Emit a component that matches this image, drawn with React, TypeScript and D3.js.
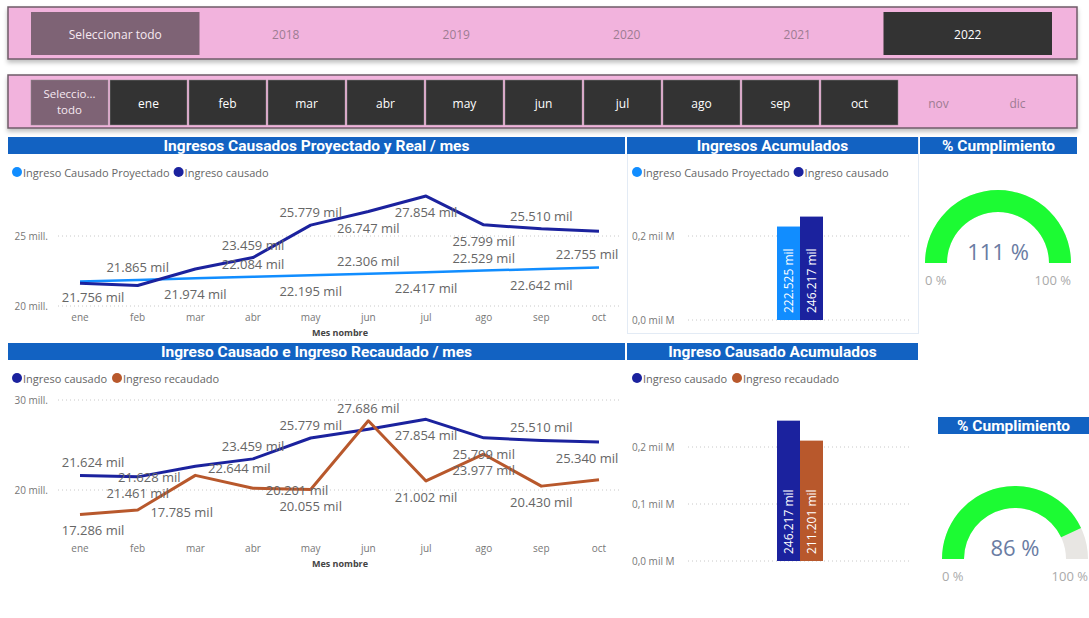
import React from 'react'
import * as d3 from 'd3'

// slicers
const years = ['2018', '2019', '2020', '2021', '2022']
const selectedYear = '2022'
const months = ['ene', 'feb', 'mar', 'abr', 'may', 'jun', 'jul', 'ago', 'sep', 'oct', 'nov', 'dic']
const activeMonths = ['ene', 'feb', 'mar', 'abr', 'may', 'jun', 'jul', 'ago', 'sep', 'oct']

// series (miles)
const chartMonths = ['ene', 'feb', 'mar', 'abr', 'may', 'jun', 'jul', 'ago', 'sep', 'oct']
const proyectado = [21756, 21865, 21974, 22084, 22195, 22306, 22417, 22529, 22642, 22755]
const causado = [21624, 21461, 22644, 23459, 25779, 26747, 27854, 25799, 25510, 25340]
const recaudado = [17286, 17785, 21628, 20201, 20055, 27686, 21002, 23977, 20430, 21151]

// acumulados
const acumTopNames = ['Ingreso Causado Proyectado', 'Ingreso causado']
const acumTopValues = [222525, 246217]
const acumBotNames = ['Ingreso causado', 'Ingreso recaudado']
const acumBotValues = [246217, 211201]

// % cumplimiento
const cumplimiento = [111, 86]

// label placement (a = above, b = below, r/l = beside, '' = hidden)
const lblTopProy = ['b', 'a', 'b', 'a', 'b', 'a', 'b', 'a', 'b', 'a']
const lblTopCaus = ['', '', '', 'a', 'a', 'b', 'b', 'b', 'a', '']
const lblBotCaus = ['a', 'b', 'r', 'a', 'a', '', 'b', 'b', 'a', 'b']
const lblBotRec = ['b', 'r', 'l', 'r', 'b', 'a', 'b', 'b', 'b', '']

const C_PROY = '#118DFF'
const C_CAUS = '#1B229E'
const C_REC = '#B8582C'
const C_TITLE = '#1262C2'
const PINK = '#F2B3DD'
const FONT = "'Open Sans', 'Noto Sans', sans-serif"
const TFONT = "Roboto, 'DejaVu Sans', sans-serif"

const loc = d3.formatLocale({ decimal: ',', thousands: '.', grouping: [3], currency: ['$', ''] })
const fmtMil = (v: number) => loc.format(',d')(v) + ' mil'
const fmtMill = (v: number) => loc.format(',d')(v / 1000) + ' mill.'
const fmtMilM = (v: number) => loc.format(',.1f')(v / 1e6) + ' mil M'

const x = d3.scalePoint().domain(chartMonths).range([80, 599])

function TitleBar({ x0, x1, y, text }: any) {
  return (
    <g>
      <rect x={x0} y={y} width={x1 - x0} height={17} fill={C_TITLE} />
      <text x={(x0 + x1) / 2} y={y + 9} textAnchor="middle" dominantBaseline="central" fill="#fff" fontFamily={TFONT} fontWeight={700} fontSize={15.5}>
        {text}
      </text>
    </g>
  )
}

function Legend({ x0, y, items }: any) {
  let cx = x0
  return (
    <g fontFamily={FONT} fontSize={11} fill="#666">
      {items.map((it: any) => {
        const px = cx
        cx = px + 7 + it.name.length * 5.6 + 9
        return (
          <g key={it.name}>
            <circle cx={px} cy={y} r={5} fill={it.color} />
            <text x={px + 6} y={y} dominantBaseline="central">{it.name}</text>
          </g>
        )
      })}
    </g>
  )
}

function LineChart({ top, title, series, yDomain, yRange, axisY }: any) {
  const y = d3.scaleLinear().domain(yDomain).range(yRange)
  const line = d3.line<number>().x((_, i) => x(chartMonths[i]) as number).y((d) => y(d))
  return (
    <g>
      <TitleBar x0={8} x1={625} y={top} text={title} />
      <Legend x0={17} y={top + 35} items={series} />
      {yDomain.map((t: number) => (
        <g key={t}>
          <line x1={58} x2={620} y1={y(t)} y2={y(t)} stroke="#c8c8c8" strokeDasharray="1,3" />
          <text x={48} y={y(t)} textAnchor="end" dominantBaseline="central" fontFamily={FONT} fontSize={10} fill="#777">
            {fmtMill(t)}
          </text>
        </g>
      ))}
      {chartMonths.map((m) => (
        <text key={m} x={x(m)} y={axisY} textAnchor="middle" dominantBaseline="central" fontFamily={FONT} fontSize={10} fill="#777">
          {m}
        </text>
      ))}
      <text x={340} y={axisY + 15} textAnchor="middle" dominantBaseline="central" fontFamily={FONT} fontSize={9} fontWeight={700} fill="#444">
        Mes nombre
      </text>
      {series.map((s: any) => (
        <path key={s.name} d={line(s.values) as string} fill="none" stroke={s.color} strokeWidth={s.width} strokeLinejoin="round" />
      ))}
      {series.map((s: any) =>
        s.values.map((v: number, i: number) => {
          const p = s.labels[i]
          if (!p) return null
          let lx = x(chartMonths[i]) as number
          let ly = y(v)
          if (p === 'a') ly -= 13
          if (p === 'b') ly += 16
          if (p === 'r') { lx += 44; ly += 2 }
          if (p === 'l') { lx -= 46; ly += 2 }
          const w = 66
          lx = Math.max(60 + w / 2, Math.min(620 - w / 2, lx))
          return (
            <text key={s.name + i} x={lx} y={ly} textAnchor="middle" dominantBaseline="central" fontFamily={FONT} fontSize={13} fill="#666">
              {fmtMil(v)}
            </text>
          )
        })
      )}
    </g>
  )
}

function BarChart({ top, title, names, values, colors, yRange, ticks, border }: any) {
  const y = d3.scaleLinear().domain([0, 200000]).range(yRange)
  const xb = d3.scaleBand().domain(names).range([777, 823])
  return (
    <g>
      {border && <rect x={627.5} y={top + 0.5} width={291} height={196} fill="none" stroke="#e3ebf5" />}
      <TitleBar x0={627} x1={918} y={top} text={title} />
      <Legend x0={637} y={top + 35} items={names.map((n: string, i: number) => ({ name: n, color: colors[i] }))} />
      {ticks.map((t: number) => (
        <g key={t}>
          <line x1={688} x2={912} y1={y(t)} y2={y(t)} stroke="#c8c8c8" strokeDasharray="1,3" />
          <text x={632} y={y(t)} dominantBaseline="central" fontFamily={FONT} fontSize={10} fill="#777">
            {fmtMilM(t)}
          </text>
        </g>
      ))}
      {names.map((n: string, i: number) => {
        const bx = xb(n) as number
        const cx = bx + xb.bandwidth() / 2
        return (
          <g key={n}>
            <rect x={bx} y={y(values[i])} width={xb.bandwidth()} height={y(0) - y(values[i])} fill={colors[i]} />
            <text transform={`translate(${cx},${y(0) - 7}) rotate(-90)`} dominantBaseline="central" fontFamily={FONT} fontSize={12} fill="#fff">
              {fmtMil(values[i])}
            </text>
          </g>
        )
      })}
    </g>
  )
}

function Gauge({ cx, cy, value, bar }: any) {
  const ang = d3.scaleLinear().domain([0, 100]).range([-Math.PI / 2, Math.PI / 2]).clamp(true)
  const arc = d3.arc<any>().innerRadius(51).outerRadius(73)
  return (
    <g>
      <TitleBar x0={bar[0]} x1={bar[1]} y={bar[2]} text="% Cumplimiento" />
      <path transform={`translate(${cx},${cy})`} d={arc({ startAngle: ang(0), endAngle: ang(100) }) as string} fill="#E8E6E3" />
      <path transform={`translate(${cx},${cy})`} d={arc({ startAngle: ang(0), endAngle: ang(value) }) as string} fill="#1CFB33" />
      <text x={cx} y={cy - 12} textAnchor="middle" dominantBaseline="central" fontFamily={FONT} fontSize={22} fill="#6A7CA3">
        {value} %
      </text>
      <text x={cx - 73} y={cy + 17} dominantBaseline="central" fontFamily={FONT} fontSize={13} fill="#aaa">0 %</text>
      <text x={cx + 73} y={cy + 17} textAnchor="end" dominantBaseline="central" fontFamily={FONT} fontSize={13} fill="#aaa">100 %</text>
    </g>
  )
}

export default function App() {
  const yearItems = ['Seleccionar todo', ...years]
  const xYear = d3.scaleBand().domain(yearItems).range([30, 1053])
  const monthItems = ['Seleccionar todo', ...months]
  const xMonth = d3.scaleBand().domain(monthItems).range([30, 1057])

  return (
    <svg width={1089} height={618} style={{ position: 'absolute', left: 0, top: 0, background: '#fff' }}>
      <defs>
        <filter id="sh" x="-5%" y="-20%" width="110%" height="160%">
          <feDropShadow dx={0} dy={3} stdDeviation={2} floodColor="#000" floodOpacity={0.25} />
        </filter>
      </defs>

      {/* year slicer */}
      <rect x={8} y={7} width={1069} height={52} fill={PINK} stroke="#6f5b68" strokeWidth={1.5} filter="url(#sh)" />
      {yearItems.map((d) => {
        const sel = d === 'Seleccionar todo' ? 'all' : d === selectedYear ? 'on' : ''
        const bx = xYear(d) as number
        return (
          <g key={d}>
            {sel && <rect x={bx + 1} y={12} width={xYear.bandwidth() - 2} height={43} fill={sel === 'all' ? '#7E6375' : '#333'} />}
            <text x={bx + xYear.bandwidth() / 2} y={34} textAnchor="middle" dominantBaseline="central" fontFamily={FONT} fontSize={12} fill={sel === 'all' ? '#f6e9f1' : sel ? '#fff' : '#9d7c92'}>
              {d}
            </text>
          </g>
        )
      })}

      {/* month slicer */}
      <rect x={8} y={75} width={1069} height={53} fill={PINK} stroke="#6f5b68" strokeWidth={1.5} filter="url(#sh)" />
      {monthItems.map((d) => {
        const all = d === 'Seleccionar todo'
        const on = activeMonths.includes(d)
        const bx = xMonth(d) as number
        const cx = bx + xMonth.bandwidth() / 2
        return (
          <g key={d}>
            {(all || on) && <rect x={bx + 1} y={80} width={xMonth.bandwidth() - 2} height={45} fill={all ? '#7E6375' : '#333'} stroke="#8a8a8a" strokeWidth={0.5} />}
            {all ? (
              <text textAnchor="middle" fontFamily={FONT} fontSize={11.5} fill="#f6e9f1">
                <tspan x={cx} y={98}>Seleccio...</tspan>
                <tspan x={cx} y={114}>todo</tspan>
              </text>
            ) : (
              <text x={cx} y={103} textAnchor="middle" dominantBaseline="central" fontFamily={FONT} fontSize={12} fill={on ? '#fff' : '#9d7c92'}>
                {d}
              </text>
            )}
          </g>
        )
      })}

      <LineChart
        top={137}
        title="Ingresos Causados Proyectado y Real / mes"
        yDomain={[20000, 25000]}
        yRange={[306, 236]}
        axisY={317}
        series={[
          { name: 'Ingreso Causado Proyectado', values: proyectado, color: C_PROY, width: 2.5, labels: lblTopProy },
          { name: 'Ingreso causado', values: causado, color: C_CAUS, width: 3, labels: lblTopCaus },
        ]}
      />
      <LineChart
        top={343}
        title="Ingreso Causado e Ingreso Recaudado / mes"
        yDomain={[20000, 30000]}
        yRange={[490, 400]}
        axisY={548}
        series={[
          { name: 'Ingreso causado', values: causado, color: C_CAUS, width: 3, labels: lblBotCaus },
          { name: 'Ingreso recaudado', values: recaudado, color: C_REC, width: 3, labels: lblBotRec },
        ]}
      />

      <BarChart top={137} title="Ingresos Acumulados" names={acumTopNames} values={acumTopValues} colors={[C_PROY, C_CAUS]} yRange={[320, 236]} ticks={[0, 200000]} border />
      <BarChart top={343} title="Ingreso Causado Acumulados" names={acumBotNames} values={acumBotValues} colors={[C_CAUS, C_REC]} yRange={[561, 447]} ticks={[0, 100000, 200000]} />

      <Gauge cx={998} cy={263} value={cumplimiento[0]} bar={[920, 1077, 137]} />
      <Gauge cx={1015} cy={559} value={cumplimiento[1]} bar={[938, 1089, 417]} />
    </svg>
  )
}
